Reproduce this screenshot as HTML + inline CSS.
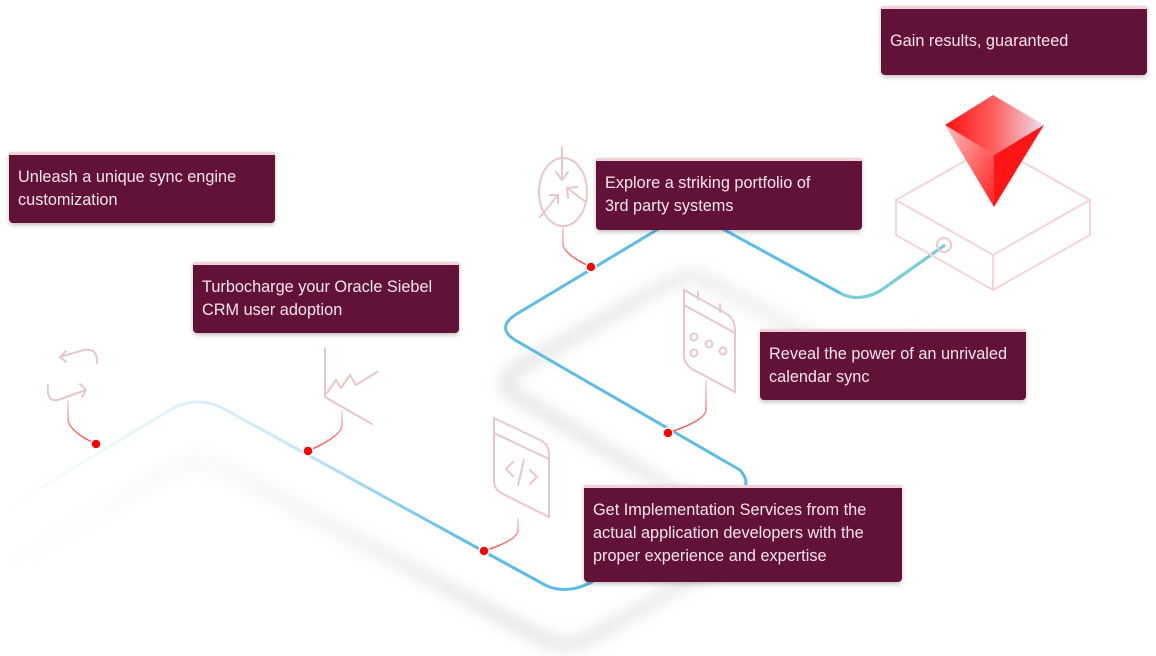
<!DOCTYPE html>
<html><head><meta charset="utf-8"><style>
html,body{margin:0;padding:0;background:#fff;width:1156px;height:656px;overflow:hidden}
.b{position:absolute;background:#621239;color:#f6e4ea;font-family:"Liberation Sans",sans-serif;font-size:16.3px;line-height:23px;padding:11px 9px;box-sizing:border-box;border-top:3px solid #f3d3d8;border-radius:0 0 4px 4px;box-shadow:0 2px 5px rgba(0,0,0,.25)}
</style></head><body>
<svg width="1156" height="656" style="position:absolute;left:0;top:0">
<defs>
<filter id="bl" x="-20%" y="-20%" width="140%" height="140%"><feGaussianBlur stdDeviation="8"/></filter>
<linearGradient id="lg" x1="0" y1="0" x2="1" y2="0"><stop offset="0" stop-color="#6cc3e8" stop-opacity="0"/><stop offset="0.3" stop-color="#6cc3e8" stop-opacity="0.35"/><stop offset="0.5" stop-color="#5bbde6"/><stop offset="1" stop-color="#5bbde6"/></linearGradient>
<linearGradient id="sg" x1="0" y1="0" x2="1" y2="0"><stop offset="0" stop-color="#bbb" stop-opacity="0"/><stop offset="0.3" stop-color="#bbb" stop-opacity="0.4"/><stop offset="0.55" stop-color="#bbb" stop-opacity="1"/><stop offset="0.85" stop-color="#bbb" stop-opacity="0.6"/><stop offset="1" stop-color="#bbb" stop-opacity="0"/></linearGradient>
<linearGradient id="cg" x1="0" y1="0" x2="0" y2="1"><stop offset="0" stop-color="#f6d6d6"/><stop offset="1" stop-color="#f44"/></linearGradient>
<linearGradient id="d1" x1="0" y1="0" x2="1" y2="0"><stop offset="0" stop-color="#ff1010"/><stop offset="0.5" stop-color="#ff6060"/><stop offset="1" stop-color="#e8e0f0"/></linearGradient>
<linearGradient id="d2" x1="0" y1="0" x2="1" y2="1"><stop offset="0" stop-color="#ffc0c0"/><stop offset="1" stop-color="#ff2020"/></linearGradient>
</defs>
<g filter="url(#bl)" stroke="url(#sg)" stroke-width="9" fill="none" opacity="0.6">
<path d="M0,570 L170,470 Q198,454 226,470 L545,640 Q565,650 590,638 L740,552 Q752,544 740,530 L515,395 Q496,383 515,370 L670,282 Q690,272 710,282 L840,353 Q858,363 880,351 L930,318"/>
</g>
<path d="M0,512 L170,410 Q198,394 226,410 L545,585 Q565,595 590,583 L740,492 Q752,484 740,470 L515,340 Q496,328 515,315 L670,222 Q690,212 710,222 L840,293 Q858,303 880,291 L945,245" fill="none" stroke="url(#lg)" stroke-width="3"/>
<path d="M840,293 Q858,303 880,291 L945,245" fill="none" stroke="#79cfd6" stroke-width="3"/>
<g fill="none" stroke="url(#cg)" stroke-width="1.5">
<path d="M68,400 L68,420 Q70,432 96,444"/>
<path d="M342,410 L342,425 Q342,436 308,451"/>
<path d="M563,225 L563,245 Q565,255 591,267"/>
<path d="M706,380 L706,410 Q706,420 668,433"/>
<path d="M518,518 L518,530 Q518,540 484,551"/>
</g>
<g fill="#f00" stroke="#fff" stroke-width="1.5">
<circle cx="96" cy="444" r="5"/><circle cx="308" cy="451" r="5"/><circle cx="591" cy="267" r="5"/><circle cx="668" cy="433" r="5"/><circle cx="484" cy="551" r="5"/>
</g>
<g fill="none" stroke="#e6c8c8" stroke-width="2" stroke-linecap="round">
<path d="M60,357 L84,350 Q98,348 97,363 M60,357 L66,351 M60,357 L66,362"/>
<path d="M48,385 Q46,402 58,400 L86,390 M86,390 L80,384 M86,390 L82,397"/>
<path d="M325,348 L325,397 L372,424 M327,393 L336,380 L341,388 L350,375 L356,385 L377,372"/>
<ellipse cx="563" cy="192" rx="24" ry="34"/>
<path d="M562,147 L562,180 M556,172 L562,180 L568,172 M540,217 L558,195 M550,195 L558,195 L558,203 M586,202 L567,188 M568,198 L567,188 L577,187"/>
<path d="M684,290 L725,313 Q735,318 735,330 L735,392 L694,370 Q684,365 684,355 Z M684,305 L735,333 M698,292 L698,300 M720,304 L720,312"/>
<circle cx="694" cy="337" r="3.5"/><circle cx="709" cy="344" r="3.5"/><circle cx="723" cy="351" r="3.5"/><circle cx="694" cy="353" r="3.5"/>
<path d="M494,418 L540,440 Q549,444 549,455 L549,517 L503,494 Q494,490 494,480 Z M494,433 L549,459"/>
<path d="M513,462 L506,469 L513,476 M530,470 L537,477 L530,484 M524,460 L518,485"/>
</g>
<g fill="none" stroke="#f4d6d6" stroke-width="2">
<path d="M896,200 L993,145 L1090,200 L993,255 Z M896,200 L896,235 L993,290 L1090,235 L1090,200 M993,255 L993,290"/>
<circle cx="944" cy="245" r="7" stroke="#e8c8c8"/>
</g>
<polygon points="993,95 1044,125 994,155 945,125" fill="url(#d1)"/>
<polygon points="945,125 994,155 994,207" fill="url(#d2)"/>
<polygon points="1044,125 994,155 994,207" fill="#ff1515"/>
</svg>
<div class="b" style="left:881px;top:6px;width:266px;height:69px;padding-top:21px">Gain results, guaranteed</div>
<div class="b" style="left:9px;top:152px;width:266px;height:71px">Unleash a unique sync engine customization</div>
<div class="b" style="left:596px;top:158px;width:266px;height:72px;padding-right:30px">Explore a striking portfolio of 3rd party systems</div>
<div class="b" style="left:193px;top:262px;width:266px;height:71px">Turbocharge your Oracle Siebel CRM user adoption</div>
<div class="b" style="left:760px;top:329px;width:266px;height:71px">Reveal the power of an unrivaled calendar sync</div>
<div class="b" style="left:584px;top:485px;width:318px;height:97px">Get Implementation Services from the actual application developers with the proper experience and expertise</div>
</body></html>
